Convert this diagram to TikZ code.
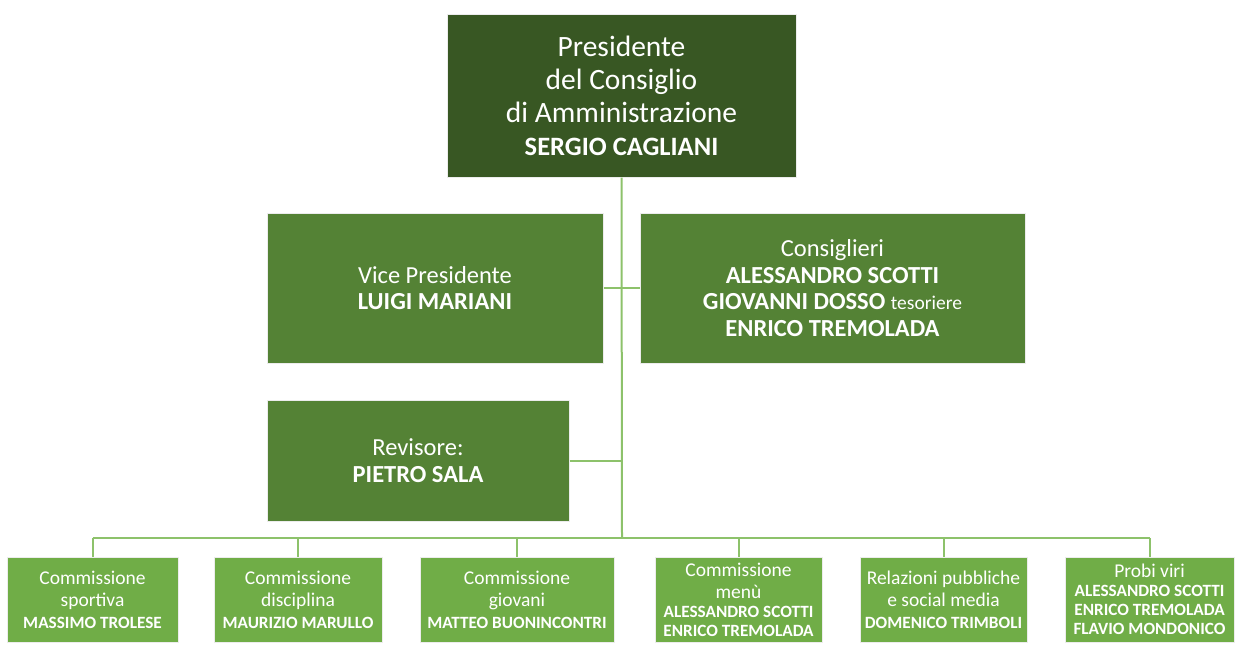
\documentclass[tikz,border=0pt]{standalone}
\usepackage{fontspec}
\setmainfont{Carlito}
\definecolor{scuro}{HTML}{385723}
\definecolor{medio}{HTML}{548235}
\definecolor{chiaro}{HTML}{70AD47}
\definecolor{linea}{HTML}{8DC26B}
\newcommand{\nome}[1]{\textbf{#1}}
\newcommand{\nomep}[1]{{\fontsize{17.2}{19}\selectfont\textbf{#1}}}
\tikzset{
  carica/.style={draw=white!85!gray, line width=1pt, text=white, align=center, inner sep=2pt},
  capo/.style={carica, fill=scuro, minimum width=349pt, minimum height=163pt, font=\fontsize{29.5}{33}\selectfont},
  membro/.style={carica, fill=medio, minimum height=150pt, font=\fontsize{24.5}{26.5}\selectfont},
  comm/.style={carica, fill=chiaro, minimum height=85pt, font=\fontsize{19.5}{22}\selectfont},
  ramo/.style={draw=linea, line width=2pt}
}
\begin{document}
\begin{tikzpicture}[x=1pt,y=-1pt]
        \useasboundingbox (0,0) rectangle (1242,664);
        \node[capo] (pres) at (621.5,95.5) {Presidente\\del Consiglio\\di Amministrazione\\{\fontsize{26.5}{30}\selectfont\nome{SERGIO CAGLIANI}}};
        \node[membro, minimum width=336pt] (vice) at (435,288) {Vice Presidente\\\nome{LUIGI MARIANI}};
        \node[membro, minimum width=385pt] (cons) at (832.5,288) {Consiglieri\\\nome{ALESSANDRO SCOTTI}\\\nome{GIOVANNI DOSSO} {\fontsize{19.5}{22}\selectfont tesoriere}\\\nome{ENRICO TREMOLADA}};
        \node[membro, minimum width=302pt, minimum height=121pt] (rev) at (418,460.5) {Revisore:\\\nome{PIETRO SALA}};
        % commissioni
        \node[comm, minimum width=171pt] (sport) at (92.5,599.5) {Commissione\\sportiva\\\nomep{MASSIMO TROLESE}};
        \node[comm, minimum width=168pt] (disc) at (298,599.5) {Commissione\\disciplina\\\nomep{MAURIZIO MARULLO}};
        \node[comm, minimum width=194pt] (giov) at (517,599.5) {Commissione\\giovani\\\nomep{MATTEO BUONINCONTRI}};
        \node[comm, minimum width=167pt] (menu) at (738.5,599.5) {Commissione\\menù\\[-3pt]\nomep{ALESSANDRO SCOTTI}\\[-3pt]\nomep{ENRICO TREMOLADA}};
        \node[comm, minimum width=167pt] (rel) at (943.5,599.5) {Relazioni pubbliche\\e social media\\\nomep{DOMENICO TRIMBOLI}};
        \node[comm, minimum width=169pt] (probi) at (1149.5,599.5) {Probi viri\\[-3pt]\nomep{ALESSANDRO SCOTTI}\\[-3pt]\nomep{ENRICO TREMOLADA}\\[-3pt]\nomep{FLAVIO MONDONICO}};
        % collegamenti
        \coordinate (bus) at (622,538);
        \draw[ramo] (pres.south) -- (bus);
        \draw[ramo] (vice.east) -- (cons.west);
        \draw[ramo] (rev.east) -- (rev.east -| bus);
        \draw[ramo] (sport.north |- bus) -- (probi.north |- bus);
        \foreach \c in {sport,disc,giov,menu,rel,probi}
            \draw[ramo] (\c.north |- bus) -- (\c.north);
    \end{tikzpicture}
\end{document}
